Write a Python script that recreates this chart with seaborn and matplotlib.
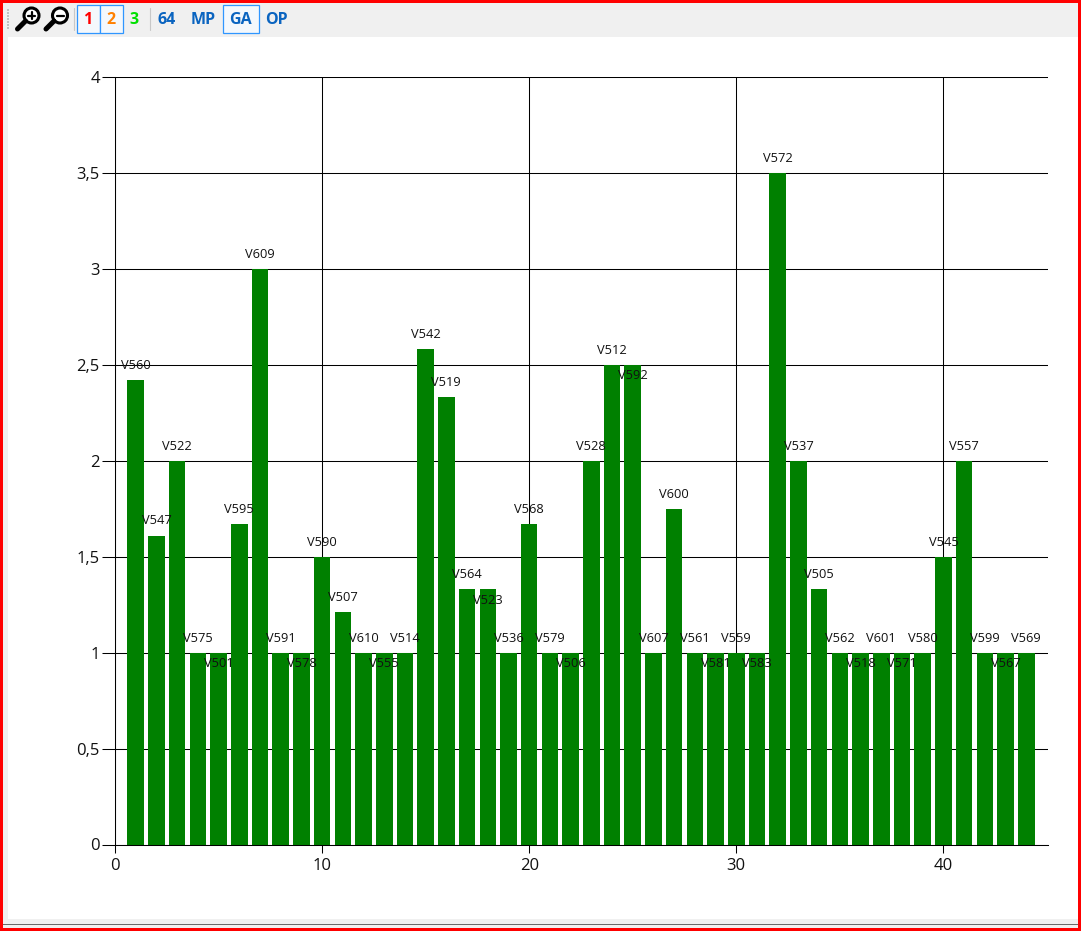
import matplotlib
matplotlib.use("Agg")
import matplotlib.pyplot as plt
import seaborn as sns
import pandas as pd
from matplotlib.patches import Rectangle, Circle
from matplotlib.lines import Line2D

positions = list(range(1, 45))
names = ["V560","V547","V522","V575","V501","V595","V609","V591","V578","V590","V507",
         "V610","V555","V514","V542","V519","V564","V523","V536","V568","V579","V506",
         "V528","V512","V592","V607","V600","V561","V581","V559","V583","V572","V537",
         "V505","V562","V518","V601","V571","V580","V545","V557","V599","V567","V569"]
values = [2.42,1.61,2,1,1,1.67,3,1,1,1.5,1.21,
          1,1,1,2.58,2.33,1.33,1.33,1,1.67,1,1,
          2,2.5,2.5,1,1.75,1,1,1,1,3.5,2,
          1.33,1,1,1,1,1,1.5,2,1,1,1]
labels_below = {"V501","V578","V555","V592","V523","V506","V581","V583","V518","V571","V567"}
x_ticks = [0, 10, 20, 30, 40]
y_ticks = [0, 0.5, 1, 1.5, 2, 2.5, 3, 3.5, 4]
y_tick_labels = ["0", "0,5", "1", "1,5", "2", "2,5", "3", "3,5", "4"]
toolbar_items = [("1", 87.5, "#ff0000"), ("2", 110.5, "#ff8000"), ("3", 133.5, "#00e000"),
                 ("64", 167, "#0a64c0"), ("MP", 203, "#0a64c0"), ("GA", 240, "#0a64c0"),
                 ("OP", 276, "#0a64c0")]

W, H = 1081, 931
sns.set_theme(style="white")
plt.rcParams["font.family"] = ["Open Sans", "DejaVu Sans"]

fig = plt.figure(figsize=(W / 100, H / 100), dpi=100, facecolor="white")

# window chrome, in pixel coordinates
bg = fig.add_axes([0, 0, 1, 1], zorder=0)
bg.set_xlim(0, W); bg.set_ylim(H, 0); bg.axis("off")
bg.add_patch(Rectangle((0, 0), W, H, fc="#f0f0f0", ec="none"))
bg.add_patch(Rectangle((8, 37), W - 11, 882, fc="white", ec="none"))
bg.add_patch(Rectangle((3, 924), W - 6, 1.2, fc="#696969", ec="none"))
bg.add_patch(Rectangle((0, 0), W, 3.3, fc="#ff0000", ec="none"))
bg.add_patch(Rectangle((0, H - 3.3), W, 3.3, fc="#ff0000", ec="none"))
bg.add_patch(Rectangle((0, 0), 3.3, H, fc="#ff0000", ec="none"))
bg.add_patch(Rectangle((W - 3.3, 0), 3.3, H, fc="#ff0000", ec="none"))
for y in range(9, 30, 3):
    bg.add_patch(Rectangle((7, y), 2, 2, fc="#c0c0c0", ec="none"))
for cx in (31.5, 60):
    bg.add_patch(Circle((cx, 15.5), 7.5, fc="white", ec="black", lw=2.2))
    bg.add_line(Line2D([cx - 6, cx - 14], [21, 29], color="black", lw=3.6, solid_capstyle="round"))
    bg.add_line(Line2D([cx - 3.5, cx + 3.5], [15.5, 15.5], color="black", lw=1.6))
bg.add_line(Line2D([31.5, 31.5], [12, 19], color="black", lw=1.6))
for sx in (74, 149.5):
    bg.add_line(Line2D([sx, sx], [8, 30], color="#c8c8c8", lw=0.8))
for bx, bw in ((77, 23), (100, 22.5), (223, 36)):
    bg.add_patch(Rectangle((bx, 4.5), bw, 28, fc="#f4f8fc", ec="#2f96ff", lw=0.9))
for txt, tx, col in toolbar_items:
    bg.text(tx, 19.5, txt, color=col, fontsize=11.5, fontweight="bold", ha="center", va="center")

# chart
x0, x1, ytop, ybot = 115, 1048, 77, 844.5
ax = fig.add_axes([x0 / W, 1 - ybot / H, (x1 - x0) / W, (ybot - ytop) / H], zorder=1)
ax.patch.set_alpha(0)
df = pd.DataFrame({"pos": positions, "value": values})
ax.set_axisbelow(True)
sns.barplot(data=df, x="pos", y="value", native_scale=True, color="#008000", saturation=1,
            width=0.8, linewidth=0, edgecolor="none", ax=ax, zorder=2)
ax.set_xlim(0, 45.05)
ax.set_ylim(0, 4)
ax.set_xlabel(""); ax.set_ylabel("")
ax.set_xticks(x_ticks)
ax.set_yticks(y_ticks, y_tick_labels)
ax.grid(True, color="black", lw=0.75)
ax.tick_params(axis="both", width=0.75, color="black", labelcolor="#111111",
               labelsize=12, left=True, bottom=True)
ax.tick_params(axis="y", length=9.4, pad=1.5)
ax.tick_params(axis="x", length=6, pad=3.5)
for side, sp in ax.spines.items():
    sp.set_visible(side in ("left", "bottom"))
    sp.set_color("black"); sp.set_linewidth(0.75)
for p, v, n in zip(positions, values, names):
    below = n in labels_below
    ax.annotate(n, (p, v), xytext=(0, -8 if below else 10.5), textcoords="offset points",
                ha="center", va="center", fontsize=9.3, color="#111111", zorder=5)

fig.savefig("out.png", dpi=100)
